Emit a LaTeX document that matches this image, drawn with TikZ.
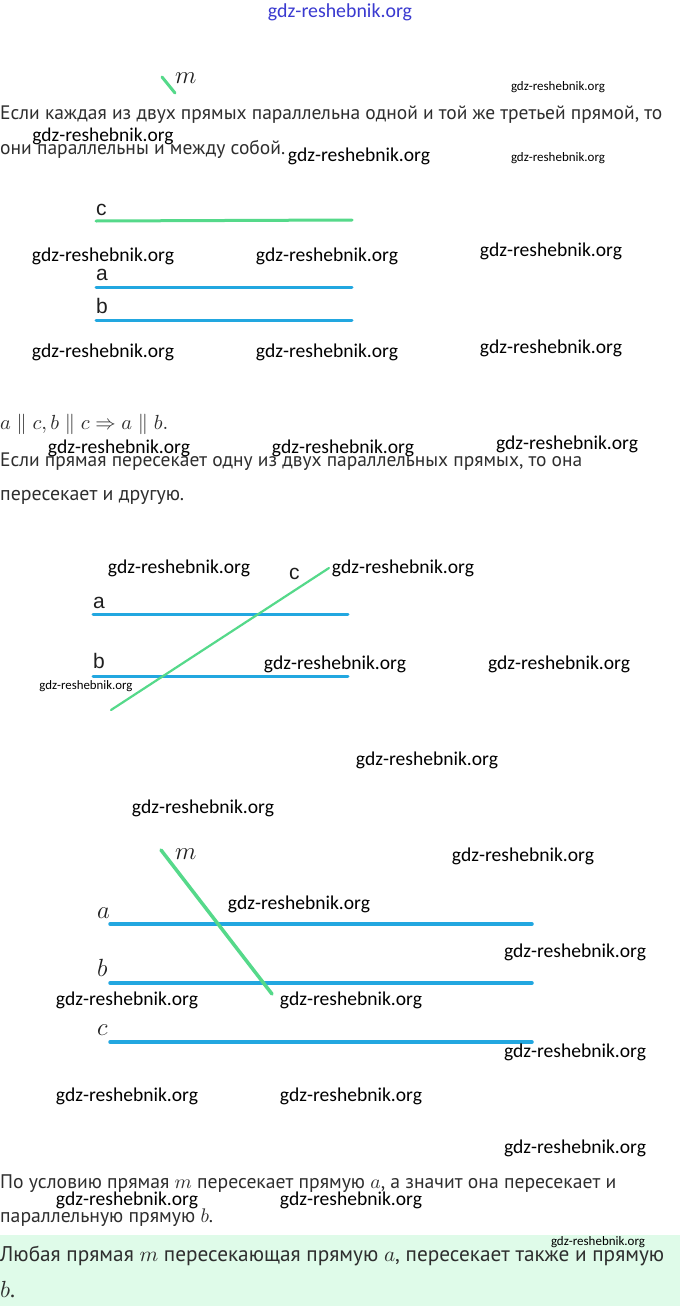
\documentclass[tikz,border=0pt]{standalone}
\usepackage{fontspec}
\setmainfont{PT Sans}
\newfontfamily\wmfont{Carlito}
\newfontfamily\lblfont{Liberation Sans}
\usepackage{graphicx}
\definecolor{txt}{HTML}{2E2E2E}
\definecolor{lblue}{HTML}{22A7E0}
\definecolor{lgreen}{HTML}{55D98A}
\definecolor{mint}{HTML}{DFFBE9}
\definecolor{wmblue}{HTML}{3A3AD0}
\newcommand\wmark[1]{\resizebox{#1pt}{!}{\wmfont gdz-reshebnik.org}}
\newcommand\fitw[2]{\resizebox{#1pt}{!}{#2}}
\tikzset{
  wm/.style={inner sep=0, text=black},
  body/.style={inner sep=0, anchor=base west, text=txt},
  lbl/.style={inner sep=0, anchor=base west, font=\lblfont\fontsize{21}{22}\selectfont, text=black!88},
  mlbl/.style={inner sep=0, anchor=base west, font=\fontsize{24}{26}\selectfont, text=black!88},
  bline/.style={draw=lblue, line width=3pt, line cap=round},
  gline/.style={draw=lgreen, line width=3pt, line cap=round},
}
\begin{document}
\begin{tikzpicture}[x=1pt,y=-1pt]
\useasboundingbox (0,0) rectangle (680,1306);
\fill[white] (0,0) rectangle (680,1306);
\fill[mint] (0,1235) rectangle (680,1306);

% top watermark
\node[wm, text=wmblue] (wtop) at (340,12) {\wmark{144}};

% stray m
\coordinate (m0a) at (162,77);
\coordinate (m0b) at (175,93);
\draw[gline] (m0a) -- (m0b);
\node[mlbl] (m0) at (175,84) {$m$};
\node[wm] (w1) at (558,87) {\wmark{94}};

% paragraph 1
\node[body] (t1) at (0,119) {\fitw{662}{Если каждая из двух прямых параллельна одной и той же третьей прямой, то}};
\node[body] (t2) at (0,154) {\fitw{285}{они параллельны и между собой.}};
\node[wm] (w2) at (103,136) {\wmark{141}};
\node[wm] (w3) at (359,156) {\wmark{142}};
\node[wm] (w4) at (558,158) {\wmark{94}};

% diagram 1
\node[lbl] (c1) at (96,215) {c};
\coordinate (c1a) at (96,221); \coordinate (c1b) at (352,220);
\draw[gline] (c1a) -- (c1b);
\node[lbl] (a1) at (96,280) {a};
\coordinate (a1a) at (96,287); \coordinate (a1b) at (352,287);
\draw[bline] (a1a) -- (a1b);
\node[lbl] (b1) at (96,313) {b};
\coordinate (b1a) at (96,320); \coordinate (b1b) at (352,320);
\draw[bline] (b1a) -- (b1b);
\node[wm] (w5) at (103,256) {\wmark{142}};
\node[wm] (w6) at (327,256) {\wmark{142}};
\node[wm] (w7) at (551,251) {\wmark{142}};
\node[wm] (w8) at (103,352) {\wmark{142}};
\node[wm] (w9) at (327,352) {\wmark{142}};
\node[wm] (w10) at (551,348) {\wmark{142}};

% math line
\node[body] (eq) at (0,429) {\fitw{168}{$a\parallel c, b\parallel c\Rightarrow a\parallel b.$}};
\node[body] (t3) at (0,466) {\fitw{582}{Если прямая пересекает одну из двух параллельных прямых, то она}};
\node[body] (t4) at (0,500) {\fitw{184}{пересекает и другую.}};
\node[wm] (w11) at (119,448) {\wmark{142}};
\node[wm] (w12) at (343,448) {\wmark{142}};
\node[wm] (w13) at (567,444) {\wmark{142}};

% diagram 2
\node[lbl] (a2) at (93,608) {a};
\coordinate (a2a) at (93,614); \coordinate (a2b) at (348,614);
\draw[bline] (a2a) -- (a2b);
\node[lbl] (b2) at (93,668) {b};
\coordinate (b2a) at (93,676); \coordinate (b2b) at (348,676);
\draw[bline] (b2a) -- (b2b);
\coordinate (c2a) at (111,710); \coordinate (c2b) at (329,568);
\draw[gline, line width=2.2pt] (c2a) -- (c2b);
\node[lbl] (c2) at (289,579) {c};
\node[wm] (w14) at (179,568) {\wmark{142}};
\node[wm] (w15) at (403,568) {\wmark{142}};
\node[wm] (w16) at (86,686) {\wmark{93}};
\node[wm] (w17) at (335,664) {\wmark{142}};
\node[wm] (w18) at (559,664) {\wmark{142}};
\node[wm] (w19) at (427,760) {\wmark{142}};
\node[wm] (w20) at (203,808) {\wmark{142}};

% diagram 3
\node[mlbl] (a3) at (97,918) {$a$};
\coordinate (a3a) at (110,924); \coordinate (a3b) at (532,924);
\draw[bline, line width=3.5pt] (a3a) -- (a3b);
\node[mlbl] (b3) at (97,976) {$b$};
\coordinate (b3a) at (110,983); \coordinate (b3b) at (532,983);
\draw[bline, line width=3.5pt] (b3a) -- (b3b);
\node[mlbl] (c3) at (97,1035) {$c$};
\coordinate (c3a) at (110,1042); \coordinate (c3b) at (532,1042);
\draw[bline, line width=3.5pt] (c3a) -- (c3b);
\coordinate (m3a) at (161,850); \coordinate (m3b) at (272,994);
\draw[gline, line width=3.5pt] (m3a) -- (m3b);
\node[mlbl] (m3) at (175,859) {$m$};
\node[wm] (w21) at (523,856) {\wmark{142}};
\node[wm] (w22) at (299,904) {\wmark{142}};
\node[wm] (w23) at (575,952) {\wmark{142}};
\node[wm] (w24) at (127,1000) {\wmark{142}};
\node[wm] (w25) at (351,1000) {\wmark{142}};
\node[wm] (w26) at (575,1052) {\wmark{142}};
\node[wm] (w27) at (127,1096) {\wmark{142}};
\node[wm] (w28) at (351,1096) {\wmark{142}};
\node[wm] (w29) at (575,1148) {\wmark{142}};

% paragraph 3
\node[body] (t5) at (0,1188) {\fitw{616}{По условию прямая $m$ пересекает прямую $a$, а значит она пересекает и}};
\node[body] (t6) at (0,1222) {\fitw{213}{параллельную прямую $b$.}};
\node[wm] (w30) at (127,1200) {\wmark{142}};
\node[wm] (w31) at (351,1200) {\wmark{142}};

% conclusion
\node[body] (t7) at (0,1261) {\fitw{664}{Любая прямая $m$ пересекающая прямую $a$, пересекает также и прямую}};
\node[body] (t8) at (0,1297) {\fitw{15}{$b$.}};
\node[wm] (w32) at (598,1242) {\wmark{94}};
\end{tikzpicture}
\end{document}
